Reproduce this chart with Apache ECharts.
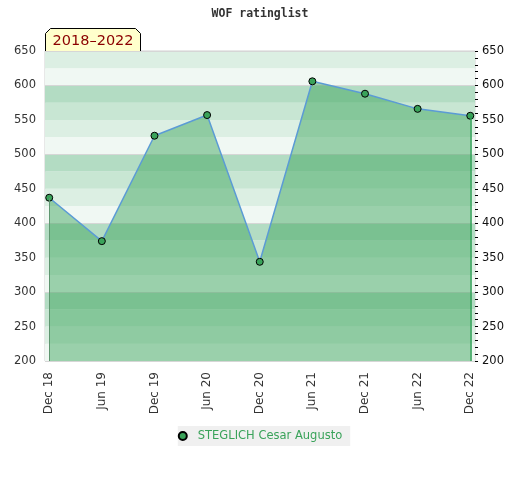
<!DOCTYPE html>
<html lang="en">

<head>
    <meta charset="UTF-8">
    <title>WOF ratinglist</title>
    <script src="https://cdn.jsdelivr.net/npm/echarts@6/dist/echarts.min.js"></script>
    <style>
        html, body { margin: 0; padding: 0; background: #fff; }
    </style>
</head>

<body>
    <div id="main" style="width: 520px;height:480px;"></div>

    <script>
        // data
        var dates = ["Dec 18", "Jun 19", "Dec 19", "Jun 20", "Dec 20", "Jun 21", "Dec 21", "Jun 22", "Dec 22"];
        var ratings = [437, 374, 527, 557, 344, 606, 588, 566, 556];
        var playerName = "STEGLICH Cesar Augusto";
        var periodLabel = "2018–2022";
        var yMin = 200, yMax = 650;

        var bandColors = ["#f0f8f3", "#dcefe3", "#c8e6d3", "#b3dcc3"];

        var points = [];
        for (var i = 0; i < ratings.length; i++) {
            points.push([i, ratings[i]]);
        }
        var last = ratings.length - 1;
        var tickIdx = dates.map(function (d, i) { return i; });

        var myChart = echarts.init(document.getElementById('main'));

        var baseY = {
            type: "value", min: yMin, max: yMax,
            axisLine: { show: false }, axisTick: { show: false },
            axisLabel: { show: false }, splitLine: { show: false }
        };

        var option = {
            animation: false,
            title: {
                text: "WOF ratinglist",
                left: "center",
                top: 3,
                textStyle: { fontFamily: "DejaVu Sans Mono", fontSize: 11.5, fontWeight: "bold", color: "#333" }
            },
            legend: {
                top: 426,
                left: "center",
                backgroundColor: "#f0f0f0",
                padding: [4, 8, 4, 0],
                itemWidth: 20,
                itemHeight: 8,
                icon: "circle",
                textStyle: { color: "#3aa35a", fontFamily: "DejaVu Sans", fontSize: 11.5, padding: [1, 0, 0, 0] },
                data: [playerName]
            },
            grid: {
                left: 45, right: 45, top: 51, bottom: 119,
                show: true, borderColor: "#d0d0d0", borderWidth: 1, backgroundColor: "transparent"
            },
            xAxis: {
                type: "value",
                min: -0.08,
                max: 8.09,
                axisLine: { show: false },
                axisTick: { show: false },
                splitLine: { show: false },
                axisLabel: {
                    customValues: tickIdx,
                    rotate: 90,
                    margin: 11,
                    color: "#333",
                    fontFamily: "DejaVu Sans",
                    fontSize: 12,
                    formatter: function (v) { return dates[Math.round(v)]; }
                }
            },
            yAxis: [
                // band background, every 25
                Object.assign({}, baseY, {
                    interval: 25,
                    splitArea: { show: true, areaStyle: { color: bandColors } }
                }),
                // gray lines every 100
                Object.assign({}, baseY, {
                    interval: 100,
                    splitLine: { show: true, lineStyle: { color: "#d6d6d6", width: 1 } }
                }),
                {
                    type: "value", position: "left", min: yMin, max: yMax, interval: 50,
                    axisLine: { show: false }, axisTick: { show: false }, splitLine: { show: false },
                    axisLabel: { color: "#333", fontFamily: "DejaVu Sans", fontSize: 11.5, margin: 9 }
                },
                {
                    type: "value", position: "right", min: yMin, max: yMax, interval: 50,
                    axisLine: { show: false }, splitLine: { show: false },
                    axisTick: { show: true, length: 3, lineStyle: { color: "#000" } },
                    minorTick: { show: true, splitNumber: 5, length: 3, lineStyle: { color: "#000" } },
                    axisLabel: { color: "#111", fontFamily: "DejaVu Sans", fontSize: 11.5, margin: 7 }
                }
            ],
            graphic: [{
                type: "group",
                left: 45,
                top: 28,
                children: [{
                    type: "polygon",
                    shape: { points: [[0, 23], [0, 5], [5, 0], [90, 0], [95, 5], [95, 23]] },
                    style: { fill: "#ffffcc", stroke: "#000", lineWidth: 1 }
                }, {
                    type: "text",
                    x: 7,
                    y: 5,
                    style: { text: periodLabel, fill: "#8b0000", fontFamily: "DejaVu Sans", fontSize: 14.5 }
                }]
            }],
            series: [{
                name: playerName,
                type: "line",
                yAxisIndex: 2,
                data: points,
                symbol: "circle",
                symbolSize: 7,
                itemStyle: { color: "#3aa35a", borderColor: "#000", borderWidth: 1 },
                lineStyle: { color: "#5b9bd5", width: 1.5 },
                areaStyle: { color: "#3aa35a", opacity: 0.47, origin: "start" },
                markLine: {
                    silent: true,
                    symbol: "none",
                    label: { show: false },
                    data: [
                        [{ coord: [0, ratings[0]], lineStyle: { color: "#5f9670", width: 1, type: "solid" } }, { coord: [0, yMin] }],
                        [{ coord: [last, ratings[last]], lineStyle: { color: "#2a9d50", width: 1.5, type: "solid" } }, { coord: [last, yMin] }]
                    ]
                }
            }]
        };

        myChart.setOption(option);
    </script>
</body>

</html>
